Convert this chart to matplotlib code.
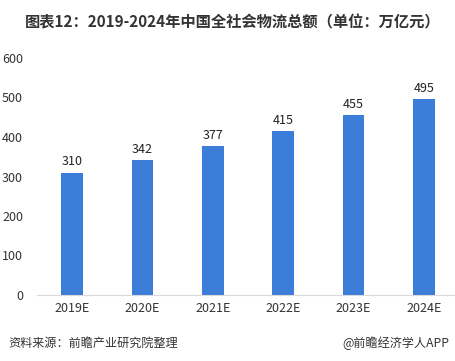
import matplotlib
matplotlib.use("Agg")
import matplotlib.pyplot as plt

plt.rcParams['font.family'] = ['Noto Sans CJK SC', 'DejaVu Sans']

years = ['2019E', '2020E', '2021E', '2022E', '2023E', '2024E']
totals = [310, 342, 377, 415, 455, 495]

fig = plt.figure(figsize=(4.55, 3.61), dpi=100)
ax = fig.add_axes([37 / 455, 1 - 295 / 361, 418 / 455, 237 / 361])

x = list(range(len(years)))
bars = ax.bar(x, totals, width=0.31, color='#3c7dd9')
for xi, v in zip(x, totals):
    ax.text(xi, v + 11, str(v), ha='center', va='bottom', fontsize=9, color='#222222')

ax.set_xlim(-0.5, 5.5 - 4 / 70)
ax.set_ylim(0, 600)
ax.set_yticks(range(0, 601, 100))
ax.set_xticks(x)
ax.set_xticklabels(years)
ax.tick_params(axis='both', length=0, labelsize=9, colors='#333333')
ax.tick_params(axis='y', pad=10)
ax.tick_params(axis='x', pad=5)
for s in ['top', 'right', 'left']:
    ax.spines[s].set_visible(False)
ax.spines['bottom'].set_color('#d9d9d9')

fig.text(25 / 455, 1 - 22 / 361, '图表12：2019-2024年中国全社会物流总额（单位：万亿元）',
         fontsize=11, fontweight='bold', color='#333333', va='center', ha='left')
fig.text(8 / 455, 1 - 343 / 361, '资料来源：前瞻产业研究院整理', fontsize=8.7,
         style='italic', color='#333333', va='center', ha='left')
fig.text(449 / 455, 1 - 343 / 361, '@前瞻经济学人APP', fontsize=8.7,
         color='#333333', va='center', ha='right')

fig.savefig('out.png', dpi=100)
